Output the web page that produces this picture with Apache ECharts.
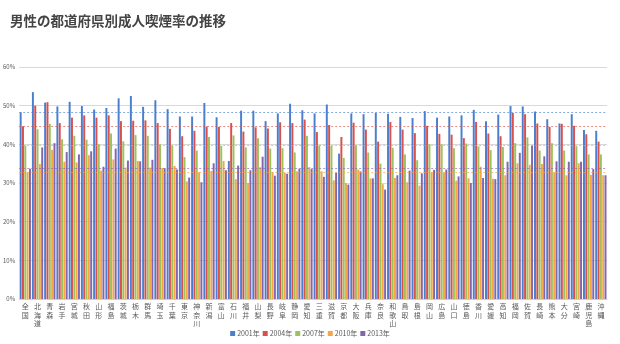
<!DOCTYPE html>
<html>
<head>
<meta charset="utf-8">
<script src="https://cdn.jsdelivr.net/npm/echarts@6/dist/echarts.min.js"></script>
<style>
html, body { margin: 0; padding: 0; background: #fff; }
#chart { width: 620px; height: 344px; }
</style>
</head>
<body>
<div id="chart"></div>
<script>
// 都道府県（先頭は全国）
const prefectures = ['全国','北海道','青森','岩手','宮城','秋田','山形','福島','茨城','栃木','群馬','埼玉','千葉','東京','神奈川','新潟','富山','石川','福井','山梨','長野','岐阜','静岡','愛知','三重','滋賀','京都','大阪','兵庫','奈良','和歌山','鳥取','島根','岡山','広島','山口','徳島','香川','愛媛','高知','福岡','佐賀','長崎','熊本','大分','宮崎','鹿児島','沖縄'];

// 男性の成人喫煙率（%）
const rate2001 = [48.3,53.5,50.8,49.8,51.0,49.9,49.0,49.4,51.9,52.5,49.7,51.4,49.1,47.2,47.2,50.7,47.0,35.7,48.7,48.7,46.0,48.0,50.5,48.8,48.0,50.3,37.6,48.0,47.8,48.1,47.9,47.1,46.8,48.6,46.9,47.2,47.5,48.9,46.0,47.7,49.9,49.8,48.5,46.5,45.4,47.8,43.7,43.5];
const rate2004 = [44.7,50.0,50.9,45.5,46.9,47.5,46.9,47.5,46.0,46.1,46.2,45.5,44.0,42.1,43.5,44.6,44.5,45.5,43.3,44.4,44.1,45.7,45.5,46.4,43.2,45.0,41.9,45.6,43.8,40.7,45.8,43.8,42.9,44.8,42.7,42.5,41.6,45.8,42.8,42.1,48.1,47.8,45.4,44.5,45.3,44.8,42.6,40.7];
const rate2007 = [39.7,43.9,45.3,41.3,42.2,41.2,40.0,42.8,40.8,42.4,42.2,40.0,39.6,36.7,38.4,41.9,39.6,42.3,39.2,41.6,38.9,39.0,37.9,42.2,39.7,39.6,36.5,39.7,37.9,35.0,39.1,37.4,35.9,40.0,40.0,39.0,40.2,39.5,38.5,39.3,40.3,41.8,38.4,40.3,38.4,39.5,37.4,37.4];
const rate2010 = [32.8,34.9,38.6,35.5,35.3,37.2,33.2,36.1,34.0,35.7,34.0,33.9,34.4,30.4,32.8,33.1,35.7,31.0,30.0,34.1,32.8,32.6,33.0,34.1,33.0,30.7,30.0,33.5,31.2,29.7,31.3,30.2,29.3,32.8,32.7,30.6,31.2,34.2,31.1,32.0,35.1,34.7,34.9,32.8,32.0,35.1,32.1,32.0];
const rate2013 = [33.7,39.2,40.3,38.0,37.4,38.2,34.2,38.9,35.8,35.6,36.0,33.8,33.5,31.4,30.2,35.1,33.3,34.5,33.3,36.8,31.9,32.4,33.7,33.6,31.6,32.7,29.6,33.0,31.2,28.3,32.0,33.2,32.5,33.4,33.5,31.7,30.0,31.3,31.0,35.5,37.8,39.7,36.9,35.6,35.5,35.5,33.6,32.0];

const years = ['2001年','2004年','2007年','2010年','2013年'];
const yearRates = [rate2001, rate2004, rate2007, rate2010, rate2013];
const yTicks = [0, 10, 20, 30, 40, 50, 60];

const colors = ['#4a7fcf', '#d9514c', '#9cc35b', '#f6a645', '#8566ae'];
const font = '"Noto Sans CJK JP", "Noto Sans", sans-serif';

const series = years.map((name, i) => ({
  name: name,
  type: 'bar',
  data: yearRates[i],
  barGap: '18%',
  barCategoryGap: '8%',
  itemStyle: { color: colors[i] },
  // 全国の値を基準線として表示
  markLine: {
    silent: true,
    symbol: 'none',
    label: { show: false },
    lineStyle: { color: colors[i], type: [2, 2], width: 1, opacity: 0.65 },
    data: [{ yAxis: yearRates[i][0] }]
  }
}));

const chart = echarts.init(document.getElementById('chart'), null, { renderer: 'canvas' });
chart.setOption({
  animation: false,
  textStyle: { fontFamily: font },
  title: {
    text: '男性の都道府県別成人喫煙率の推移',
    left: 5,
    top: 9,
    textStyle: { fontFamily: font, fontSize: 13.5, fontWeight: 'bold', color: '#444' }
  },
  legend: {
    data: years,
    bottom: 2,
    left: 'center',
    itemWidth: 5,
    itemHeight: 5,
    itemGap: 3,
    icon: 'rect',
    textStyle: { fontFamily: font, fontSize: 7, color: '#595959', padding: [0, 0, 0, -3] }
  },
  grid: { left: 19, right: 13, top: 67, bottom: 45, containLabel: false },
  xAxis: {
    type: 'category',
    data: prefectures,
    axisTick: { show: false },
    axisLine: { lineStyle: { color: '#d0d0d0' } },
    axisLabel: {
      interval: 0,
      margin: 3,
      fontSize: 7,
      lineHeight: 8.6,
      color: '#595959',
      verticalAlign: 'top',
      formatter: v => v.split('').join('\n')
    }
  },
  yAxis: {
    type: 'value',
    min: yTicks[0],
    max: yTicks[yTicks.length - 1],
    interval: 10,
    axisLine: { show: false },
    axisTick: { show: false },
    axisLabel: { fontSize: 6, color: '#595959', margin: 4, formatter: '{value}%' },
    splitLine: { lineStyle: { color: '#d9d9d9', width: 1 } }
  },
  series: series
});
</script>
</body>
</html>
